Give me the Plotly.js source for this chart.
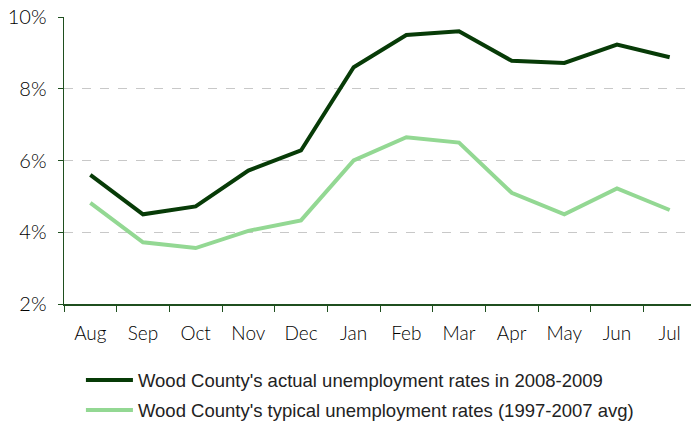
<!DOCTYPE html>
<html><head><meta charset="utf-8">
<script src="https://cdn.plot.ly/plotly-3.0.1.min.js"></script>
<style>body{margin:0;background:#fff}#chart{width:691px;height:433px}</style>
</head><body><div id="chart"></div>
<script>
var months = ["Aug","Sep","Oct","Nov","Dec","Jan","Feb","Mar","Apr","May","Jun","Jul"];
var actualRates = [5.6, 4.5, 4.72, 5.72, 6.28, 8.6, 9.5, 9.6, 8.78, 8.72, 9.23, 8.88];
var typicalRates = [4.82, 3.72, 3.56, 4.04, 4.33, 6.0, 6.65, 6.5, 5.1, 4.5, 5.22, 4.62];
var yTicks = [2, 4, 6, 8, 10];
var yTickLabels = ["2%", "4%", "6%", "8%", "10%"];
var seriesNames = ["Wood County's actual unemployment rates in 2008-2009",
                   "Wood County's typical unemployment rates (1997-2007 avg)"];

var traces = [
  {x: months, y: actualRates, name: seriesNames[0], type: "scatter", mode: "lines",
   legendgroup: "a", line: {color: "#073b07", width: 4}},
  {x: months, y: typicalRates, name: seriesNames[1], type: "scatter", mode: "lines",
   legendgroup: "b", line: {color: "#93d893", width: 4}}
];
var tickFont = {family: "Lato, Open Sans, sans-serif", size: 19, color: "#000", weight: 300};
var layout = {
  width: 691, height: 433,
  margin: {l: 64, r: 0, t: 17, b: 129},
  paper_bgcolor: "#fff", plot_bgcolor: "#fff",
  showlegend: true,
  legend: {orientation: "v", x: 0.027, xanchor: "left", y: -0.2, yanchor: "top",
           font: {family: "Liberation Sans, Arial, sans-serif", size: 18.5, color: "#222"},
           itemwidth: 47, traceorder: "grouped", tracegroupgap: 3, bgcolor: "rgba(0,0,0,0)"},
  xaxis: {type: "category", range: [-0.5, 11.405], showgrid: false,
          showline: true, linecolor: "#1f4f1f", linewidth: 1.5,
          ticks: "outside", tickson: "boundaries", ticklen: 6, tickcolor: "#1f4f1f",
          ticklabelstandoff: 12, tickfont: tickFont},
  yaxis: {range: [2, 10], tickvals: yTicks, ticktext: yTickLabels,
          showline: true, linecolor: "#1f4f1f", linewidth: 1.5,
          ticks: "outside", ticklen: 5, tickcolor: "#1f4f1f",
          showgrid: true, gridcolor: "#c8c8c8", griddash: "dash", gridwidth: 1,
          zeroline: false, ticklabelstandoff: 7,
          tickfont: Object.assign({}, tickFont, {size: 20})}
};
Plotly.newPlot("chart", traces, layout, {displayModeBar: false, staticPlot: true});
</script></body></html>
